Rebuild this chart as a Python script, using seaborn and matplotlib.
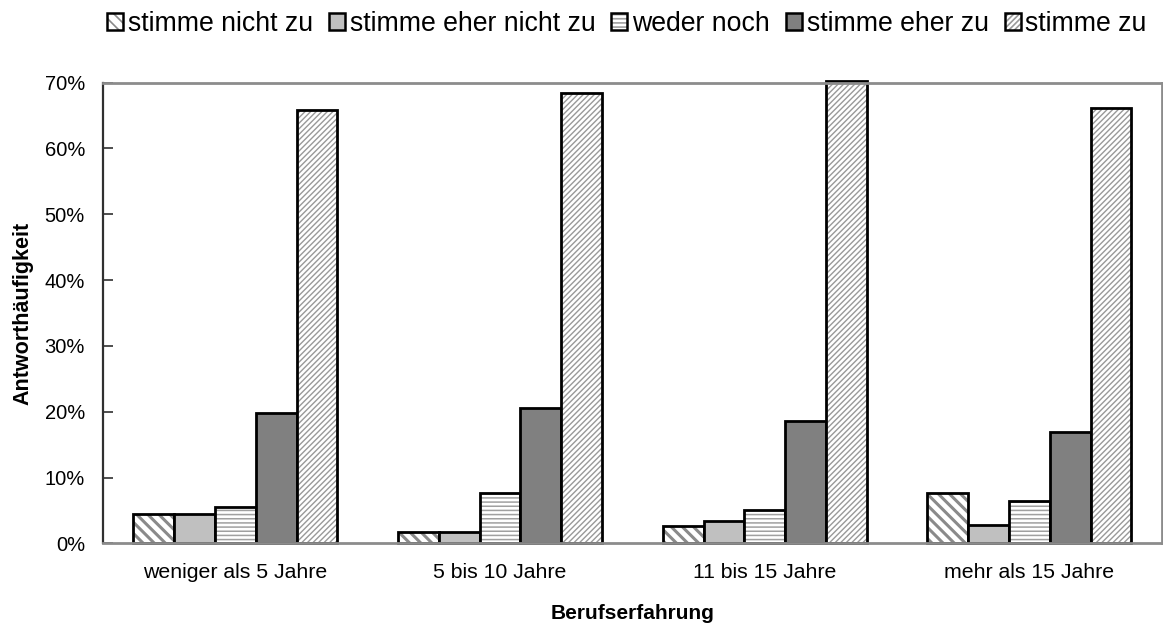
import matplotlib
matplotlib.use("Agg")
import matplotlib.pyplot as plt
import matplotlib.patches as mpatches
from matplotlib.ticker import PercentFormatter
import seaborn as sns
import pandas as pd

# Data
categories = ["weniger als 5 Jahre", "5 bis 10 Jahre", "11 bis 15 Jahre", "mehr als 15 Jahre"]
responses = ["stimme nicht zu", "stimme eher nicht zu", "weder noch", "stimme eher zu", "stimme zu"]
stimme_nicht_zu = [4.4, 1.7, 2.6, 7.7]
stimme_eher_nicht_zu = [4.4, 1.7, 3.4, 2.8]
weder_noch = [5.5, 7.7, 5.1, 6.4]
stimme_eher_zu = [19.8, 20.5, 18.6, 16.9]
stimme_zu = [65.9, 68.4, 70.3, 66.1]
y_ticks = [0, 10, 20, 30, 40, 50, 60, 70]

series = [stimme_nicht_zu, stimme_eher_nicht_zu, weder_noch, stimme_eher_zu, stimme_zu]
rows = []
for resp, vals in zip(responses, series):
    for cat, v in zip(categories, vals):
        rows.append({"Berufserfahrung": cat, "Antwort": resp, "Wert": v})
df = pd.DataFrame(rows)

# Styles
faces = ["white", "#c0c0c0", "white", "#808080", "white"]
hatches = ["\\\\\\", None, "----", None, "//////"]
hatch_cols = ["#8a8a8a", None, "#a0a0a0", None, "#999999"]
hatch_lws = [2.2, 1.0, 1.1, 1.0, 1.0]

sns.set_style("white")
plt.rcParams["font.family"] = ["Liberation Sans", "DejaVu Sans"]
plt.rcParams["hatch.linewidth"] = 1.2
plt.rcParams["text.color"] = "black"
plt.rcParams["axes.labelcolor"] = "black"
plt.rcParams["xtick.color"] = "black"
plt.rcParams["ytick.color"] = "black"


def apply_hatch(p, i):
    if not hatches[i]:
        return
    p.set_hatch(hatches[i])
    if hasattr(p, "set_hatchcolor"):
        p.set_hatchcolor(hatch_cols[i])
    else:
        p._hatch_color = matplotlib.colors.to_rgba(hatch_cols[i])
    if hasattr(p, "set_hatch_linewidth"):
        p.set_hatch_linewidth(hatch_lws[i])
    else:
        p._hatch_linewidth = hatch_lws[i]


fig = plt.figure(figsize=(11.63, 6.24), dpi=100)
ax = fig.add_axes([0.0886, 0.1293, 0.9103, 0.7382])

palette = dict(zip(responses, faces))
sns.barplot(data=df, x="Berufserfahrung", y="Wert", hue="Antwort",
            order=categories, hue_order=responses, palette=palette,
            width=0.77, gap=0, saturation=1, legend=False, ax=ax,
            edgecolor="black", linewidth=2.0)

for i, cont in enumerate(ax.containers):
    for p in cont.patches:
        p.set_edgecolor("black")
        p.set_linewidth(2.0)
        p.set_clip_on(False)
        apply_hatch(p, i)

ax.set_ylim(0, 70)
ax.set_xlim(-0.5, 3.5)
ax.set_yticks(y_ticks)
ax.yaxis.set_major_formatter(PercentFormatter(decimals=0))
ax.tick_params(axis="y", direction="in", length=7, width=1.2, color="#303030",
               labelsize=14.5, pad=13, left=True, labelcolor="black")
ax.tick_params(axis="x", length=0, labelsize=15.3, pad=14, labelcolor="black")

for side in ["top", "right", "bottom"]:
    ax.spines[side].set_visible(True)
    ax.spines[side].set_color("#8c8c8c")
    ax.spines[side].set_linewidth(2.0)
ax.spines["left"].set_color("#303030")
ax.spines["left"].set_linewidth(1.6)

ax.set_xlabel("Berufserfahrung", fontsize=15, fontweight="bold", labelpad=16, color="black")
ax.set_ylabel("Antworthäufigkeit", fontsize=15.5, fontweight="bold", labelpad=8, color="black")

# Legend
handles = []
for i, r in enumerate(responses):
    h = mpatches.Patch(facecolor=faces[i], edgecolor="black", linewidth=1.8, label=r)
    apply_hatch(h, i)
    handles.append(h)
leg = fig.legend(handles=handles, loc="center", bbox_to_anchor=(0.539, 0.962), ncol=5,
                 frameon=False, fontsize=19.2, handlelength=0.6, handleheight=0.6,
                 handletextpad=0.18, columnspacing=0.6, borderaxespad=0)
for t in leg.get_texts():
    t.set_color("black")

fig.savefig("out.png", dpi=100)
